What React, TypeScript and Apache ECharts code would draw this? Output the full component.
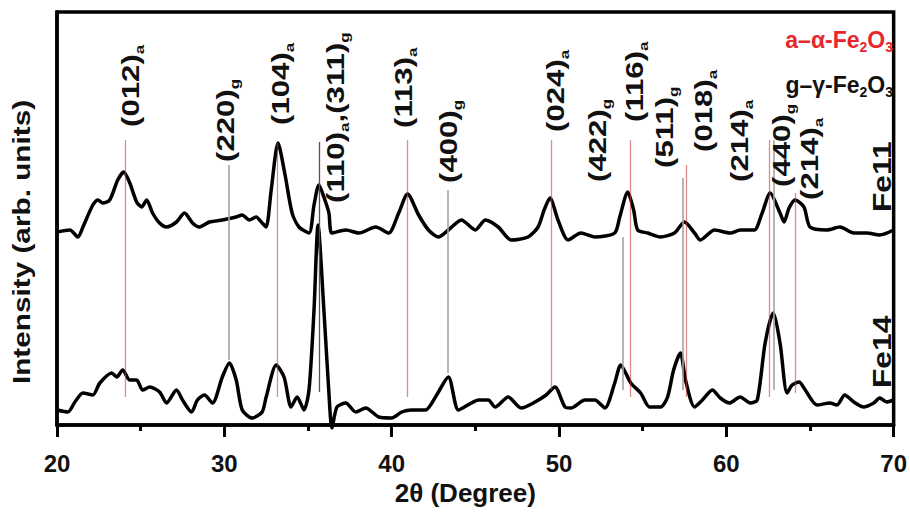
import React, { useEffect, useRef } from "react";
import * as echarts from "echarts";

const FONT = "'Liberation Sans', Arial, Helvetica, sans-serif";
const NARROW = "'Liberation Sans Narrow', 'Liberation Sans', Arial, sans-serif";

// Fe11 pattern (2θ in degrees, intensity in arbitrary units)
const fe11Angle = [20.0, 20.77, 21.25, 21.55, 22.14, 22.44, 22.74, 23.15, 23.63, 23.99, 24.35, 24.76, 25.06, 25.36, 25.71, 26.13, 26.55, 27.14, 27.62, 28.1, 28.51, 29.11, 29.88, 30.71, 31.07, 31.49, 31.9, 32.26, 32.5, 32.8, 33.21, 33.63, 34.05, 34.46, 35.06, 35.36, 35.65, 36.01, 36.25, 36.43, 37.26, 38.04, 39.05, 39.82, 40.42, 40.95, 41.61, 42.2, 42.8, 43.39, 44.17, 45.0, 45.6, 46.37, 47.14, 48.15, 48.75, 49.11, 49.46, 49.94, 50.54, 51.31, 52.14, 53.33, 53.63, 54.11, 54.46, 54.7, 55.3, 56.07, 56.9, 57.5, 58.1, 58.45, 59.29, 60.24, 60.83, 61.67, 62.14, 62.62, 63.21, 63.45, 63.75, 64.11, 64.64, 65.0, 66.01, 66.79, 67.62, 68.39, 69.17, 70.0];
const fe11Intensity = [193, 195, 188, 198, 220, 225, 222, 225, 245, 253, 242, 223, 218, 225, 212, 202, 198, 203, 212, 202, 198, 203, 205, 208, 210, 205, 208, 202, 198, 235, 282, 250, 212, 198, 192, 220, 240, 225, 212, 192, 195, 192, 198, 192, 212, 231, 210, 195, 188, 195, 205, 195, 205, 198, 185, 188, 198, 215, 227, 205, 185, 192, 188, 192, 208, 233, 215, 195, 192, 188, 192, 203, 192, 185, 195, 192, 195, 195, 212, 232, 212, 203, 217, 225, 218, 198, 195, 198, 192, 192, 190, 195];

// Fe14 pattern
const fe14Angle = [20.0, 20.65, 21.07, 21.55, 22.14, 22.56, 23.27, 23.57, 23.93, 24.35, 24.76, 25.12, 25.54, 26.13, 26.55, 27.14, 27.5, 28.04, 28.39, 28.81, 29.29, 29.88, 30.3, 30.71, 31.07, 31.67, 32.26, 32.5, 33.1, 33.57, 33.99, 34.35, 34.76, 35.06, 35.36, 35.6, 35.95, 36.25, 36.43, 36.73, 37.26, 37.86, 38.45, 39.23, 40.0, 40.6, 41.19, 42.02, 42.62, 43.39, 43.99, 44.76, 45.18, 45.77, 46.19, 46.96, 47.74, 48.57, 49.23, 49.76, 50.36, 50.71, 51.55, 52.14, 52.74, 53.33, 53.69, 54.29, 54.88, 55.42, 56.07, 56.49, 56.85, 57.26, 57.56, 58.1, 58.57, 59.17, 59.64, 60.18, 60.83, 61.43, 61.85, 62.32, 62.8, 63.21, 63.63, 63.93, 64.35, 64.64, 65.42, 66.19, 66.61, 67.08, 67.62, 68.21, 68.81, 69.17, 69.58, 70.0];
const fe14Intensity = [15, 13, 23, 32, 30, 42, 52, 48, 55, 45, 45, 35, 38, 33, 22, 35, 25, 13, 25, 30, 22, 48, 62, 45, 15, 7, 13, 28, 60, 48, 18, 28, 15, 35, 115, 200, 115, 32, -3, 18, 22, 13, 17, 8, 7, 13, 15, 15, 28, 48, 15, 22, 25, 25, 18, 28, 17, 23, 30, 38, 18, 17, 25, 25, 17, 42, 60, 42, 32, 18, 18, 28, 55, 72, 45, 18, 25, 35, 27, 22, 28, 22, 25, 82, 112, 82, 32, 40, 43, 37, 20, 22, 20, 30, 23, 18, 22, 27, 23, 25];

// Reference reflection lines (a = α-Fe2O3, g = γ-Fe2O3)
const refAngle = [24.05, 30.24, 33.15, 35.65, 40.95, 43.33, 49.52, 53.81, 54.23, 57.4, 57.62, 62.56, 62.86, 64.11];
const refPhase = ["a", "g", "a", "ag", "a", "g", "a", "g", "a", "g", "a", "a", "g", "a"];
const refTop = [285, 260, 282, 283, 285, 235, 285, 188, 285, 247, 260, 285, 285, 232];
const refBottom = [28, 65, 28, 33, 28, 52, 35, 35, 28, 35, 28, 28, 35, 32];

// Peak labels
const peakHkl = [["(012)"], ["(220)"], ["(104)"], ["(110)", "(311)"], ["(113)"], ["(400)"], ["(024)"], ["(422)"], ["(116)"], ["(511)"], ["(018)"], ["(214)"], ["(440)"], ["(214)"]];
const peakPhase = [["a"], ["g"], ["a"], ["a", "g"], ["a"], ["g"], ["a"], ["g"], ["a"], ["g"], ["a"], ["a"], ["g"], ["a"]];
const peakLabelAngle = [24.4, 30.06, 33.39, 36.67, 40.71, 43.39, 49.82, 52.32, 54.52, 56.31, 58.63, 60.83, 63.33, 65.0];
const peakLabelBase = [298, 263, 300, 222, 297, 242, 293, 243, 303, 257, 273, 243, 238, 225];

const xTickLabels = [20, 30, 40, 50, 60, 70];

const RED = "rgba(205,60,60,0.6)";
const GRAY = "#a3a3a3";

export default function App() {
  const ref = useRef<HTMLDivElement>(null);

  useEffect(() => {
    if (!ref.current) return;
    const chart = echarts.init(ref.current, undefined, { renderer: "svg" });

    const refLines = refAngle.map((x, i) => {
      const ph = refPhase[i];
      const color = ph === "a" ? RED : ph === "g" ? GRAY : "#8a3b3b";
      return [
        { coord: [x, refTop[i]], lineStyle: { color, width: ph === "g" ? 1.6 : 1.3, type: "solid" } },
        { coord: [x, refBottom[i]] },
      ];
    });

    chart.setOption({
      animation: false,
      backgroundColor: "#fff",
      grid: {
        left: 57,
        right: 12,
        top: 12,
        bottom: 87,
        show: true,
        borderColor: "#000",
        borderWidth: 3.5,
        backgroundColor: "transparent",
      },
      xAxis: {
        type: "value",
        min: 20,
        max: 70,
        interval: 10,
        name: "2θ (Degree)",
        nameLocation: "middle",
        nameGap: 55,
        nameTextStyle: { fontSize: 26, fontWeight: "bold", color: "#111", fontFamily: FONT, padding: [0, 20, 0, 0] },
        axisLine: { show: true, lineStyle: { color: "#000", width: 3.5 } },
        axisTick: { show: true, length: 12, lineStyle: { color: "#000", width: 3 } },
        minorTick: { show: true, splitNumber: 2, length: 6, lineStyle: { color: "#000", width: 3 } },
        splitLine: { show: false },
        axisLabel: {
          margin: 26,
          fontSize: 24,
          fontWeight: "bold",
          color: "#111",
          fontFamily: NARROW,
          formatter: (v: number) => (xTickLabels.includes(v) ? String(v) : ""),
        },
      },
      yAxis: {
        type: "value",
        min: 0,
        max: 413,
        axisLine: { show: true, lineStyle: { color: "#000", width: 3.5 } },
        axisTick: { show: false },
        axisLabel: { show: false },
        splitLine: { show: false },
      },
      series: [
        {
          type: "line",
          name: "ref",
          data: [],
          silent: true,
          z: 1,
          markLine: {
            silent: true,
            symbol: ["none", "none"],
            label: { show: false },
            animation: false,
            data: refLines,
          },
        },
        {
          type: "line",
          name: "Fe11",
          data: fe11Angle.map((x, i) => [x, fe11Intensity[i]]),
          showSymbol: false,
          symbol: "none",
          smooth: 0.25,
          clip: false,
          z: 3,
          lineStyle: { color: "#000", width: 3.5 },
        },
        {
          type: "line",
          name: "Fe14",
          data: fe14Angle.map((x, i) => [x, fe14Intensity[i]]),
          showSymbol: false,
          symbol: "none",
          smooth: 0.25,
          clip: false,
          z: 3,
          lineStyle: { color: "#000", width: 3.5 },
        },
      ],
    });

    const mainStyle = { fontSize: 24, fontWeight: "bold", fontFamily: FONT, fill: "#111", lineHeight: 30, verticalAlign: "middle" };
    const subStyle = { fontSize: 13, fontWeight: "bold", fontFamily: FONT, fill: "#111", lineHeight: 13, verticalAlign: "bottom" };

    const peakGraphics = peakLabelAngle.map((ang, i) => {
      const p = chart.convertToPixel({ gridIndex: 0 }, [ang, peakLabelBase[i]]) as number[];
      const text = peakHkl[i]
        .map((h, k) => `{m|${k > 0 ? "," : ""}${h}}{s|${peakPhase[i][k]}}`)
        .join("");
      return {
        type: "text",
        x: p[0],
        y: p[1],
        rotation: Math.PI / 2,
        scaleX: 1.3,
        z: 10,
        style: {
          text,
          align: "left",
          verticalAlign: "middle",
          textAlign: "left",
          textVerticalAlign: "middle",
          rich: { m: mainStyle, s: subStyle },
        },
      };
    });

    const legendMain = (fill: string) => ({ fontSize: 23, fontWeight: "bold", fontFamily: FONT, fill, lineHeight: 28, verticalAlign: "middle" });
    const legendSub = (fill: string) => ({ fontSize: 14, fontWeight: "bold", fontFamily: FONT, fill, lineHeight: 14, verticalAlign: "bottom" });

    chart.setOption({
      graphic: [
        ...peakGraphics,
        {
          type: "text",
          x: 893,
          y: 40,
          z: 10,
          style: {
            text: "{m|a–α-Fe}{s|2}{m|O}{s|3}",
            align: "right",
            verticalAlign: "middle",
            textAlign: "right",
            textVerticalAlign: "middle",
            rich: { m: legendMain("#e8262d"), s: legendSub("#e8262d") },
          },
        },
        {
          type: "text",
          x: 893,
          y: 85,
          z: 10,
          style: {
            text: "{m|g–γ-Fe}{s|2}{m|O}{s|3}",
            align: "right",
            verticalAlign: "middle",
            textAlign: "right",
            textVerticalAlign: "middle",
            rich: { m: legendMain("#111"), s: legendSub("#111") },
          },
        },
        {
          type: "text",
          x: 882,
          y: 212,
          rotation: Math.PI / 2,
          scaleX: 1.22,
          z: 10,
          style: {
            text: "Fe11",
            font: `bold 26px ${FONT}`,
            fill: "#111",
            align: "left",
            verticalAlign: "middle",
            textAlign: "left",
            textVerticalAlign: "middle",
          },
        },
        {
          type: "text",
          x: 882,
          y: 388,
          rotation: Math.PI / 2,
          scaleX: 1.22,
          z: 10,
          style: {
            text: "Fe14",
            font: `bold 26px ${FONT}`,
            fill: "#111",
            align: "left",
            verticalAlign: "middle",
            textAlign: "left",
            textVerticalAlign: "middle",
          },
        },
        {
          type: "text",
          x: 22,
          y: 242,
          rotation: Math.PI / 2,
          scaleX: 1.24,
          z: 10,
          style: {
            text: "Intensity (arb. units)",
            font: `bold 24px ${FONT}`,
            fill: "#111",
            align: "center",
            verticalAlign: "middle",
            textAlign: "center",
            textVerticalAlign: "middle",
          },
        },
      ],
    });

    return () => chart.dispose();
  }, []);

  return (
    <div
      ref={ref}
      style={{ position: "fixed", left: 0, top: 0, width: 910, height: 512, background: "#fff" }}
    />
  );
}
